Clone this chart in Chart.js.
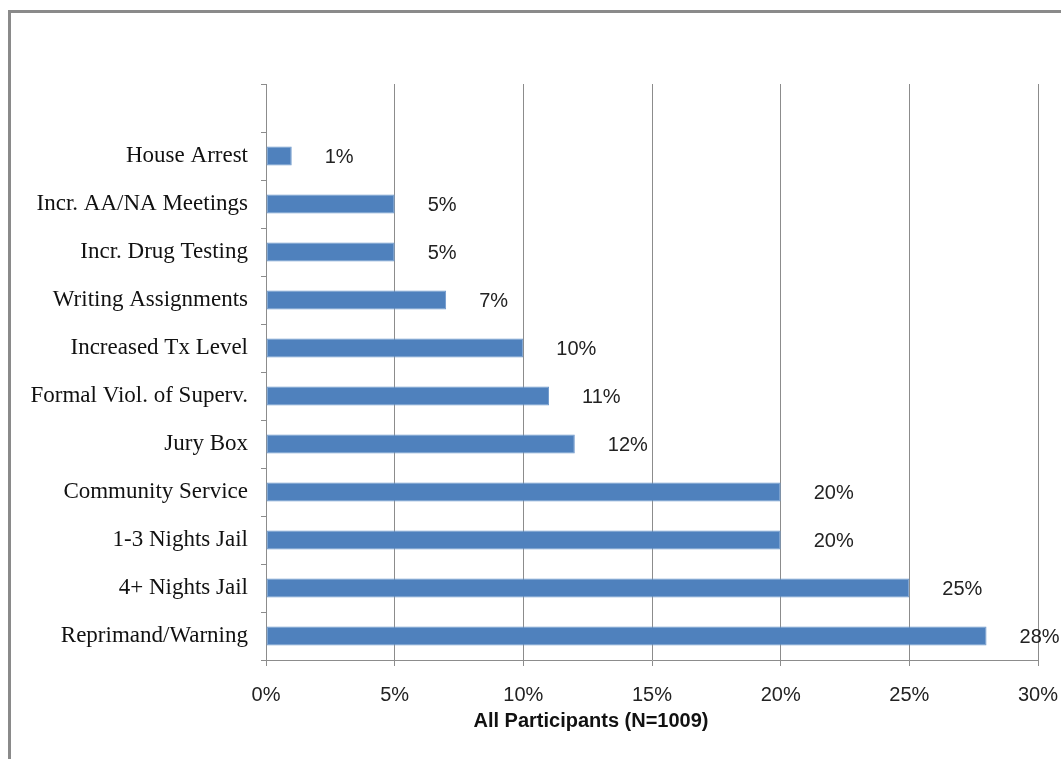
<!DOCTYPE html>
<html>
<head>
<meta charset="utf-8">
<script src="https://cdn.jsdelivr.net/npm/chart.js@4/dist/chart.umd.min.js"></script>
<style>
  html, body { margin: 0; padding: 0; background: #fff; }
  #wrap { position: relative; width: 1061px; height: 759px; overflow: hidden; }
  #frame { position: absolute; left: 8px; top: 10px; width: 1200px; height: 900px;
           border-left: 3px solid #8a8a8a; border-top: 3px solid #8a8a8a; pointer-events: none; }
  canvas { position: absolute; left: 0; top: 0; }
</style>
</head>
<body>
<div id="wrap">
  <canvas id="c" width="1061" height="759"></canvas>
  <div id="frame"></div>
</div>
<script>
// Categories top to bottom (top slot is empty in the original chart)
const categories = ['', 'House Arrest', 'Incr. AA/NA Meetings', 'Incr. Drug Testing',
  'Writing Assignments', 'Increased Tx Level', 'Formal Viol. of Superv.', 'Jury Box',
  'Community Service', '1-3 Nights Jail', '4+ Nights Jail', 'Reprimand/Warning'];
const percentages = [null, 1, 5, 5, 7, 10, 11, 12, 20, 20, 25, 28];
const xTickValues = [0, 5, 10, 15, 20, 25, 30];
const xAxisTitle = 'All Participants (N=1009)';

const gridColor = '#8c8c8c';
const sansFont = '"Liberation Sans", Arial, sans-serif';

const valueLabels = {
  id: 'valueLabels',
  afterDatasetsDraw(chart) {
    const ctx = chart.ctx;
    const meta = chart.getDatasetMeta(0);
    ctx.save();
    ctx.font = '20px ' + sansFont;
    ctx.fillStyle = '#222';
    ctx.textAlign = 'left';
    ctx.textBaseline = 'middle';
    meta.data.forEach((bar, i) => {
      const v = percentages[i];
      if (v === null || v === undefined) return;
      ctx.fillText(v + '%', bar.x + 33, bar.y + 1);
    });
    // x-axis title, centred under the whole chart as in the original
    ctx.font = 'bold 20px ' + sansFont;
    ctx.fillStyle = '#111';
    ctx.textAlign = 'center';
    ctx.fillText(xAxisTitle, chart.width * 0.557, chart.chartArea.bottom + 61);
    ctx.restore();
  }
};

new Chart(document.getElementById('c'), {
  type: 'bar',
  data: {
    labels: categories,
    datasets: [{
      data: percentages,
      backgroundColor: '#4F81BD',
      borderColor: '#6E98CB',
      borderWidth: 1,
      borderSkipped: false,
      categoryPercentage: 1.0,
      barPercentage: 0.4
    }]
  },
  options: {
    indexAxis: 'y',
    responsive: false,
    animation: false,
    layout: { padding: { left: 0, top: 84, right: 23, bottom: 0 } },
    plugins: { legend: { display: false }, tooltip: { enabled: false } },
    scales: {
      x: {
        min: 0, max: 30,
        afterBuildTicks(scale) { scale.ticks = xTickValues.map(v => ({ value: v })); },
        afterFit(scale) { scale.height = 99; scale.paddingLeft = 0; scale.paddingRight = 0; },
        grid: { color: gridColor, lineWidth: 1, tickLength: 6, drawTicks: true },
        border: { color: gridColor, width: 1 },
        ticks: {
          padding: 17,
          color: '#222',
          font: { family: sansFont, size: 20 },
          callback: v => v + '%',
          maxRotation: 0
        },
        title: { display: false }
      },
      y: {
        afterFit(scale) { scale.width = 266; scale.paddingTop = 0; scale.paddingBottom = 0; },
        grid: { offset: true, drawOnChartArea: false, color: gridColor, tickLength: 5 },
        border: { color: gridColor, width: 1 },
        ticks: {
          padding: 13,
          color: '#111',
          autoSkip: false,
          font: { family: '"Liberation Serif", "Times New Roman", serif', size: 23 }
        }
      }
    }
  },
  plugins: [valueLabels]
});
</script>
</body>
</html>
